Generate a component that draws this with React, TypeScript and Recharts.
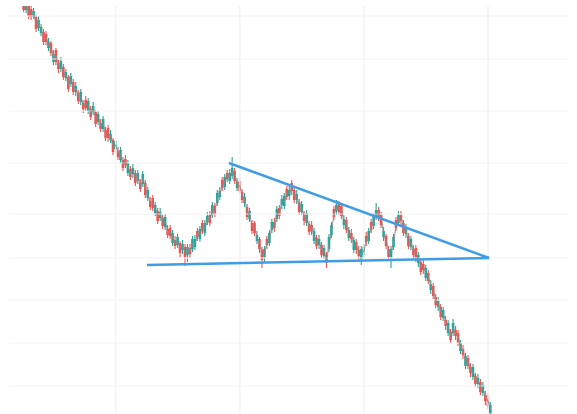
import React from 'react';
import { ComposedChart, Bar, Line, XAxis, YAxis, ReferenceLine } from 'recharts';

// open, high, low, close
type Candle = [number, number, number, number];

const FIRST_BAR = 13;

const declineCandles: Candle[] = [
  [498, 501, 488, 490], [490, 499, 487, 496], [494, 496, 481, 484], [491, 494, 480, 483],
  [483, 492, 481, 489], [483, 485, 468, 471], [472, 484, 469, 480], [467, 476, 464, 473],
  [468, 471, 455, 458], [466, 469, 455, 458], [452, 462, 449, 458], [457, 459, 444, 447],
  [438, 450, 435, 446], [450, 452, 435, 438], [437, 440, 427, 431], [431, 443, 428, 439],
  [433, 436, 420, 423], [422, 431, 419, 428], [423, 425, 408, 411], [416, 427, 413, 424],
  [418, 421, 405, 408], [408, 418, 404, 414], [407, 410, 396, 399], [398, 411, 395, 408],
  [397, 400, 387, 391], [400, 404, 389, 392], [389, 402, 386, 399], [391, 394, 380, 383],
  [388, 398, 385, 394], [388, 390, 373, 376], [378, 389, 375, 386], [377, 381, 368, 371],
  [371, 384, 368, 381], [370, 373, 359, 362], [372, 375, 358, 362], [360, 370, 357, 366],
  [360, 362, 345, 348], [351, 362, 347, 359], [349, 353, 340, 343], [340, 353, 337, 350],
  [340, 343, 329, 332], [341, 345, 332, 335], [327, 340, 324, 337], [331, 334, 320, 323],
  [326, 336, 322, 332], [327, 330, 314, 317], [319, 330, 316, 327], [317, 321, 308, 311],
  [316, 329, 313, 326], [317, 320, 302, 305], [302, 313, 299, 310], [299, 303, 290, 293],
  [302, 305, 289, 292], [287, 298, 284, 295], [289, 292, 276, 279], [282, 292, 279, 288],
  [282, 285, 271, 274], [273, 286, 270, 283], [271, 275, 262, 265], [272, 275, 261, 264],
  [257, 270, 254, 267], [260, 264, 251, 254], [255, 266, 252, 263], [257, 259, 243, 247],
  [250, 260, 246, 256],
];

const triangleCandles: Candle[] = [
  [253, 256, 234, 243], [245, 256, 238, 253], [252, 256, 242, 246], [251, 264, 248, 261],
  [253, 265, 250, 261], [269, 272, 259, 263], [261, 274, 258, 271], [277, 280, 266, 269],
  [267, 280, 264, 277], [278, 288, 275, 284], [285, 289, 274, 277], [285, 298, 282, 295],
  [294, 297, 283, 286], [297, 310, 294, 307], [303, 313, 300, 309], [320, 323, 309, 312],
  [313, 326, 310, 323], [327, 330, 318, 321], [319, 331, 316, 327], [324, 343, 321, 332],
  [329, 332, 316, 319], [312, 322, 309, 318], [319, 322, 306, 309], [308, 311, 297, 300],
  [297, 307, 293, 303], [293, 296, 280, 283], [281, 292, 278, 289], [277, 280, 266, 269],
  [277, 279, 264, 267], [259, 269, 256, 265], [261, 263, 247, 251], [250, 253, 232, 240],
  [243, 254, 238, 251], [261, 264, 251, 255], [257, 270, 254, 267], [270, 281, 267, 278],
  [278, 282, 268, 272], [281, 294, 278, 291], [292, 295, 281, 284], [295, 305, 291, 301],
  [294, 307, 291, 304], [311, 314, 300, 303], [304, 314, 300, 310], [317, 320, 305, 309],
  [310, 313, 297, 300], [300, 310, 296, 306], [298, 301, 285, 288], [288, 299, 285, 296],
  [285, 289, 275, 279], [277, 290, 274, 287], [276, 279, 265, 268], [275, 279, 265, 269],
  [259, 272, 256, 269], [262, 265, 251, 254], [255, 265, 251, 261], [255, 258, 242, 245],
  [244, 255, 241, 252], [245, 248, 232, 237], [251, 266, 248, 263], [265, 278, 262, 275],
  [291, 294, 280, 283], [289, 300, 285, 295], [296, 299, 285, 288], [294, 296, 281, 284],
  [275, 285, 271, 281], [280, 283, 267, 270], [262, 273, 259, 270], [267, 271, 257, 261],
  [250, 263, 247, 260], [258, 261, 246, 250], [250, 254, 240, 244], [241, 254, 235, 251],
  [245, 256, 242, 253], [264, 268, 254, 258], [259, 272, 256, 269], [278, 281, 267, 270],
  [274, 287, 271, 284], [284, 297, 280, 290], [290, 293, 279, 282], [285, 288, 272, 275],
  [263, 273, 259, 269], [264, 266, 251, 254], [251, 254, 240, 243], [243, 254, 232, 251],
  [253, 266, 250, 263], [280, 283, 269, 272], [277, 289, 274, 285], [285, 289, 275, 279],
  [277, 280, 264, 267], [266, 276, 262, 272], [264, 267, 251, 254], [253, 264, 250, 261],
  [251, 255, 241, 245], [252, 255, 238, 242],
];

const breakdownCandles: Candle[] = [
  [237, 248, 233, 245], [238, 241, 225, 228], [236, 240, 226, 230], [222, 235, 219, 232],
  [227, 230, 216, 219], [210, 220, 206, 216], [214, 217, 201, 204], [203, 206, 192, 195],
  [193, 203, 189, 199], [193, 196, 180, 183], [182, 193, 179, 190], [180, 184, 170, 174],
  [167, 180, 164, 177], [168, 171, 157, 160], [167, 181, 164, 177], [170, 174, 160, 164],
  [167, 170, 154, 157], [149, 160, 146, 157], [151, 155, 141, 145], [134, 147, 131, 144],
  [142, 145, 131, 134], [133, 137, 123, 127], [123, 136, 120, 133], [124, 127, 113, 116],
  [116, 126, 112, 122], [118, 121, 105, 108], [107, 118, 104, 115], [105, 109, 95, 99],
  [104, 107, 91, 94], [87, 98, 84, 95],
];

const priceTicks = [114, 157, 200, 242, 286, 337, 389, 441, 484];
const barTicks = [50, 100, 150, 200];

// descending triangle drawn on the chart
const resistanceLine = [{ x: 95.6, y: 337 }, { x: 200.4, y: 242 }];
const supportLine = [{ x: 62.6, y: 235 }, { x: 200.4, y: 242 }];

const UP = '#26a69a';
const DOWN = '#ef5350';
const TREND = '#3f9de8';
const GRID = '#f3f3f3';

const rows = [...declineCandles, ...triangleCandles, ...breakdownCandles].map(([o, h, l, c], n) => ({
  i: FIRST_BAR + n,
  o,
  h,
  l,
  c,
  mid: (o + c) / 2,
  range: [l, h],
}));

const CandleShape = (props: any) => {
  const { x, y, width, height, payload } = props;
  if (!payload || height == null || isNaN(y)) return null;
  const { o, h, l, c } = payload;
  const top = Math.min(y, y + height);
  const span = Math.abs(height);
  const ppu = h === l ? 0 : span / (h - l);
  const cx = x + width / 2;
  const bodyTop = top + (h - Math.max(o, c)) * ppu;
  const bodyH = Math.max(1, Math.abs(o - c) * ppu);
  const color = c >= o ? UP : DOWN;
  return (
    <g>
      <line x1={cx} x2={cx} y1={top} y2={top + span} stroke={color} strokeWidth={1.1} />
      <rect x={cx - 1.3} y={bodyTop} width={2.6} height={bodyH} fill={color} />
    </g>
  );
};

export default function App() {
  return (
    <div style={{ position: 'absolute', left: 0, top: 0, width: 577, height: 414, background: '#fff' }}>
      <ComposedChart width={577} height={414} data={rows} margin={{ top: 6, right: 8, bottom: 0, left: 9 }}>
        <XAxis
          dataKey="i"
          type="number"
          domain={[7, 232.6]}
          ticks={barTicks}
          allowDataOverflow
          height={0}
          tick={false}
          axisLine={false}
          tickLine={false}
        />
        <YAxis
          type="number"
          domain={[86, 494]}
          ticks={priceTicks}
          allowDataOverflow
          width={0}
          tick={false}
          axisLine={false}
          tickLine={false}
        />
        {priceTicks.map((t) => (
          <ReferenceLine key={`h${t}`} y={t} stroke={GRID} strokeWidth={1.2} />
        ))}
        {barTicks.map((t) => (
          <ReferenceLine key={`v${t}`} x={t} stroke={GRID} strokeWidth={1.4} />
        ))}
        <Bar dataKey="range" barSize={2} shape={<CandleShape />} isAnimationActive={false} />
        <Line
          dataKey="mid"
          type="linear"
          stroke="#8a8a8a"
          strokeOpacity={0.8}
          strokeWidth={1.2}
          dot={false}
          activeDot={false}
          isAnimationActive={false}
        />
        <ReferenceLine segment={resistanceLine} stroke={TREND} strokeWidth={2.5} ifOverflow="visible" />
        <ReferenceLine segment={supportLine} stroke={TREND} strokeWidth={2.5} ifOverflow="visible" />
      </ComposedChart>
    </div>
  );
}
